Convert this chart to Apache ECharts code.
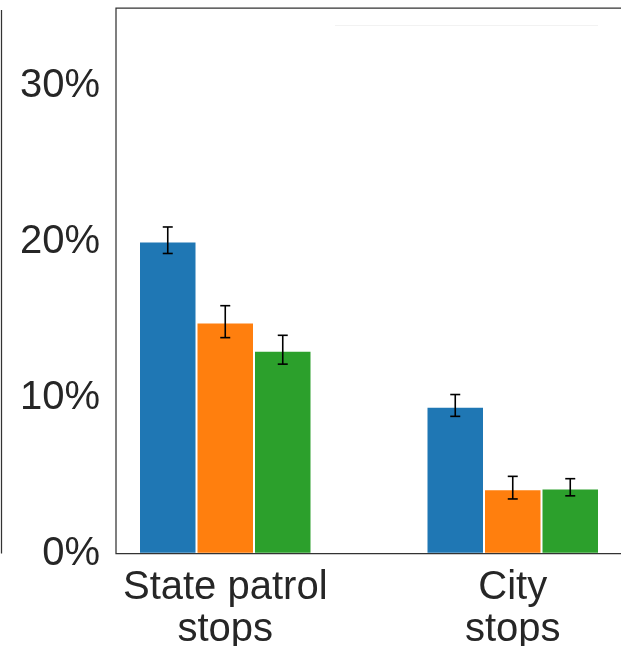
<!DOCTYPE html>
<html>
<head>
<meta charset="utf-8">
<script src="https://cdn.jsdelivr.net/npm/echarts@6/dist/echarts.min.js"></script>
<style>
  html, body { margin: 0; padding: 0; background: #ffffff; }
  #chart { width: 621px; height: 646px; }
</style>
</head>
<body>
<div id="chart"></div>
<script>
// Stop groups on the x axis
const categories = ['State patrol\nstops', 'City\nstops'];

// One colour per hue level
const hueColors = ['#1f77b4', '#ff7f0e', '#2ca02c'];

// Share of stops (%) per hue level, one entry per stop group
const hue0Values = [20.0, 9.4];
const hue1Values = [14.8, 4.1];
const hue2Values = [13.0, 4.15];

// Confidence interval bounds (%)
const hue0Low = [19.25, 8.8];
const hue0High = [20.95, 10.2];
const hue1Low = [13.85, 3.5];
const hue1High = [15.9, 4.95];
const hue2Low = [12.15, 3.7];
const hue2High = [14.0, 4.8];

// Y tick values (%)
const yTicks = [0, 10, 20, 30];

const hueValues = [hue0Values, hue1Values, hue2Values];
const hueLow = [hue0Low, hue1Low, hue2Low];
const hueHigh = [hue0High, hue1High, hue2High];

const BAR_W = 0.2;
const offsets = [-0.2, 0, 0.2];
const FONT = '"Liberation Sans", Arial, sans-serif';
const INK = '#262626';

function barRenderer(offset) {
  return function (params, api) {
    const x = api.value(0) + offset;
    const topLeft = api.coord([x - BAR_W / 2, api.value(1)]);
    const bottomRight = api.coord([x + BAR_W / 2, 0]);
    return {
      type: 'rect',
      shape: {
        x: topLeft[0] + 1,
        y: topLeft[1] + 0.75,
        width: bottomRight[0] - topLeft[0] - 2,
        height: bottomRight[1] - topLeft[1] - 1.4
      },
      style: { fill: api.visual('color') }
    };
  };
}

function errRenderer(offset) {
  return function (params, api) {
    const x = api.value(0) + offset;
    const lo = api.coord([x, api.value(2)]);
    const hi = api.coord([x, api.value(3)]);
    const cap = 5;
    const st = { stroke: '#000000', lineWidth: 1.6 };
    return {
      type: 'group',
      children: [
        { type: 'line', shape: { x1: lo[0], y1: lo[1], x2: hi[0], y2: hi[1] }, style: st },
        { type: 'line', shape: { x1: lo[0] - cap, y1: lo[1], x2: lo[0] + cap, y2: lo[1] }, style: st },
        { type: 'line', shape: { x1: hi[0] - cap, y1: hi[1], x2: hi[0] + cap, y2: hi[1] }, style: st }
      ]
    };
  };
}

const series = [];
hueValues.forEach(function (vals, h) {
  const data = vals.map(function (v, i) { return [i, v, hueLow[h][i], hueHigh[h][i]]; });
  series.push({
    type: 'custom',
    name: 'bars' + h,
    renderItem: barRenderer(offsets[h]),
    itemStyle: { color: hueColors[h] },
    encode: { x: 0, y: 1 },
    data: data,
    z: 2,
    silent: true
  });
  series.push({
    type: 'custom',
    name: 'err' + h,
    renderItem: errRenderer(offsets[h]),
    encode: { x: 0, y: [2, 3] },
    data: data,
    z: 3,
    silent: true
  });
});

const chart = echarts.init(document.getElementById('chart'), null, { renderer: 'canvas' });
chart.setOption({
  animation: false,
  backgroundColor: '#ffffff',
  grid: {
    left: 116, top: 8, right: -1, bottom: 92.5,
    show: true, borderColor: '#333333', borderWidth: 1.25,
    backgroundColor: 'transparent', containLabel: false,
    outerBoundsMode: 'none'
  },
  xAxis: {
    type: 'value',
    min: -0.38,
    max: 1.38,
    axisLine: { show: false },
    axisTick: { show: false },
    splitLine: { show: false },
    axisLabel: {
      customValues: categories.map(function (c, i) { return i; }),
      formatter: function (v) { return categories[Math.round(v)]; },
      fontSize: 40,
      lineHeight: 42,
      fontFamily: FONT,
      color: INK,
      margin: 13
    }
  },
  yAxis: {
    type: 'value',
    min: 0,
    max: 35,
    interval: 10,
    axisLine: { show: false },
    axisTick: { show: false },
    splitLine: { show: false },
    axisLabel: {
      customValues: yTicks,
      formatter: '{value}%',
      fontSize: 40,
      fontFamily: FONT,
      color: INK,
      margin: 16,
      padding: [8, 0, 0, 0]
    }
  },
  graphic: [
    {
      type: 'line',
      shape: { x1: 1.5, y1: 10, x2: 1.5, y2: 553.5 },
      style: { stroke: '#333333', lineWidth: 1.25 },
      silent: true
    },
    {
      type: 'line',
      shape: { x1: 335, y1: 25.5, x2: 598, y2: 25.5 },
      style: { stroke: '#f2f2f2', lineWidth: 1 },
      silent: true
    }
  ],
  series: series
});
</script>
</body>
</html>
